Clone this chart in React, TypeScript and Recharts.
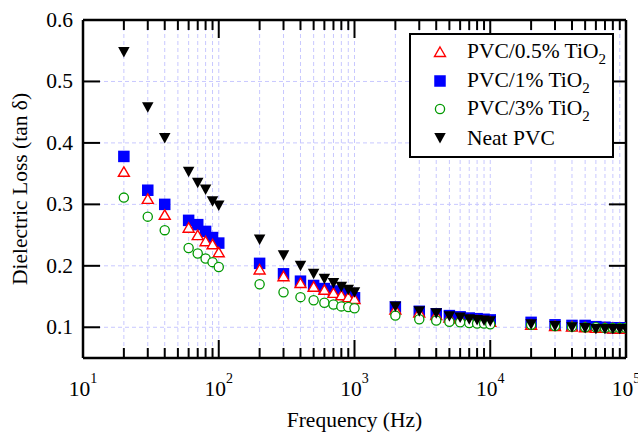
import React from "react";
import { ScatterChart, Scatter, XAxis, YAxis, CartesianGrid, Legend } from "recharts";

const FONT = "'Liberation Serif', 'Times New Roman', serif";

// frequency (Hz) of each measured point
const freqs = [
  20, 30, 40, 60, 70, 80, 90, 100,
  200, 300, 400, 500, 600, 700, 800, 900, 1000,
  2000, 3000, 4000, 5000, 6000, 7000, 8000, 9000, 10000,
  20000, 30000, 40000, 50000, 60000, 70000, 80000, 90000, 100000,
];

// dielectric loss (tan delta) per sample
const pvc05 = [
  0.353, 0.309, 0.283, 0.262, 0.25, 0.24, 0.235, 0.222,
  0.194, 0.183, 0.172, 0.166, 0.161, 0.156, 0.152, 0.149, 0.146,
  0.129, 0.124, 0.12, 0.116, 0.114, 0.112, 0.111, 0.11, 0.109,
  0.104, 0.102, 0.101, 0.1, 0.099, 0.099, 0.098, 0.098, 0.098,
];
const pvc1 = [
  0.378, 0.323, 0.3, 0.274, 0.267, 0.256, 0.246, 0.237,
  0.204, 0.187, 0.175, 0.168, 0.163, 0.159, 0.155, 0.151, 0.148,
  0.133, 0.126, 0.122, 0.119, 0.117, 0.115, 0.114, 0.113, 0.112,
  0.108, 0.104, 0.103, 0.103, 0.101, 0.1, 0.099, 0.099, 0.099,
];
const pvc3 = [
  0.311, 0.28, 0.258, 0.229, 0.22, 0.212, 0.206, 0.198,
  0.17, 0.157, 0.149, 0.144, 0.14, 0.137, 0.134, 0.133, 0.131,
  0.119, 0.113, 0.111, 0.109, 0.108, 0.107, 0.106, 0.106, 0.105,
  0.104, 0.102, 0.101, 0.1, 0.1, 0.099, 0.099, 0.099, 0.099,
];
const neatPvc = [
  0.548, 0.458, 0.408, 0.353, 0.335, 0.324, 0.305, 0.298,
  0.243, 0.217, 0.2, 0.187, 0.179, 0.172, 0.166, 0.161, 0.157,
  0.134, 0.126, 0.123, 0.118, 0.116, 0.113, 0.112, 0.111, 0.11,
  0.105, 0.102, 0.1, 0.099, 0.097, 0.097, 0.097, 0.097, 0.097,
];

const xTicks = [
  10, 20, 30, 40, 50, 60, 70, 80, 90,
  100, 200, 300, 400, 500, 600, 700, 800, 900,
  1000, 2000, 3000, 4000, 5000, 6000, 7000, 8000, 9000,
  10000, 20000, 30000, 40000, 50000, 60000, 70000, 80000, 90000,
  100000,
];
const yTicks = [0.1, 0.2, 0.3, 0.4, 0.5, 0.6];

const legendItems = [
  { kind: "tri", base: "PVC/0.5% TiO", sub: "2" },
  { kind: "sq", base: "PVC/1% TiO", sub: "2" },
  { kind: "circ", base: "PVC/3% TiO", sub: "2" },
  { kind: "down", base: "Neat PVC", sub: "" },
];

const toRows = (vals: number[]) => freqs.map((f, i) => ({ f, v: vals[i] }));

const isMajor = (v: number) => {
  const e = Math.round(Math.log10(v));
  return Math.abs(Math.pow(10, e) - v) < 1e-6 * v;
};

const Marker = ({ kind, cx, cy }: { kind: string; cx: number; cy: number }) => {
  if (kind === "tri")
    return (
      <polygon
        points={`${cx},${cy - 5} ${cx + 5.5},${cy + 4.5} ${cx - 5.5},${cy + 4.5}`}
        fill="#fff"
        stroke="#ff0000"
        strokeWidth={1.4}
      />
    );
  if (kind === "sq") return <rect x={cx - 5.75} y={cy - 5.75} width={11.5} height={11.5} fill="#0000ff" />;
  if (kind === "circ") return <circle cx={cx} cy={cy} r={4.6} fill="#fff" stroke="#009900" strokeWidth={1.3} />;
  return <polygon points={`${cx - 5.75},${cy - 5} ${cx + 5.75},${cy - 5} ${cx},${cy + 5.5}`} fill="#000" />;
};

const BottomTick = (props: any) => {
  const { x, y, payload } = props;
  const v = payload.value;
  const major = isMajor(v);
  return (
    <g>
      <line x1={x} x2={x} y1={y} y2={y - (major ? 18 : 10)} stroke="#000" strokeWidth={2} />
      {major && (
        <text x={x} y={y + 38} textAnchor="middle" fontFamily={FONT} fontSize={21.5} fill="#000">
          <tspan>10</tspan>
          <tspan dy={-13} fontSize={14}>
            {Math.round(Math.log10(v))}
          </tspan>
        </text>
      )}
    </g>
  );
};

const TopTick = (props: any) => {
  const { x, y, payload } = props;
  const major = isMajor(payload.value);
  return <line x1={x} x2={x} y1={y} y2={y + (major ? 18 : 10)} stroke="#000" strokeWidth={2} />;
};

const LeftTick = (props: any) => {
  const { x, y, payload } = props;
  return (
    <g>
      <line x1={x} x2={x + 17} y1={y} y2={y} stroke="#000" strokeWidth={2} />
      <text x={x - 10} y={y + 7} textAnchor="end" fontFamily={FONT} fontSize={21.5} fill="#000">
        {payload.value.toFixed(1)}
      </text>
    </g>
  );
};

const RightTick = (props: any) => {
  const { x, y } = props;
  return <line x1={x} x2={x - 17} y1={y} y2={y} stroke="#000" strokeWidth={2} />;
};

const XTitle = (props: any) => {
  const { x, y, width } = props.viewBox;
  return (
    <text x={x + width / 2} y={y + 69} textAnchor="middle" fontFamily={FONT} fontSize={21.5} fill="#000">
      Frequency (Hz)
    </text>
  );
};

const YTitle = (props: any) => {
  const { x, y, height } = props.viewBox;
  const tx = x - 55;
  const ty = y + height / 2;
  return (
    <text
      x={tx}
      y={ty}
      transform={`rotate(-90 ${tx} ${ty})`}
      textAnchor="middle"
      fontFamily={FONT}
      fontSize={21.5}
      fill="#000"
    >
      Dielectric Loss (tan δ)
    </text>
  );
};

const rowCenters = [17, 46, 74, 103];

const LegendBox = () => (
  <div
    style={{
      boxSizing: "border-box",
      width: 205,
      height: 125,
      border: "2px solid #000",
      background: "#fff",
      fontFamily: FONT,
      fontSize: 21.5,
      color: "#000",
      position: "relative",
    }}
  >
    {legendItems.map((it, i) => (
      <div
        key={it.base}
        style={{
          position: "absolute",
          left: 0,
          top: rowCenters[i] - 14,
          height: 28,
          display: "flex",
          alignItems: "center",
          whiteSpace: "nowrap",
        }}
      >
        <svg width={24} height={24} style={{ marginLeft: 17 }}>
          <Marker kind={it.kind} cx={12} cy={12} />
        </svg>
        <span style={{ marginLeft: 15, lineHeight: "22px" }}>
          {it.base}
          {it.sub && (
            <span style={{ fontSize: 15, position: "relative", top: 6 }}>{it.sub}</span>
          )}
        </span>
      </div>
    ))}
  </div>
);

const axisLine = { stroke: "#000", strokeWidth: 2.5 };

export default function App() {
  return (
    <div style={{ position: "absolute", left: 0, top: 0, width: 638, height: 434, background: "#fff" }}>
      <ScatterChart width={638} height={434} margin={{ top: 19, right: 11, bottom: 75, left: 82 }}>
        <CartesianGrid stroke="#c8c8ff" strokeDasharray="4 3" strokeWidth={1} />
        <XAxis
          type="number"
          dataKey="f"
          scale="log"
          domain={[10, 100000]}
          allowDataOverflow
          ticks={xTicks}
          interval={0}
          height={1}
          tickSize={0}
          tickMargin={0}
          tickLine={false}
          axisLine={axisLine}
          tick={BottomTick}
          label={XTitle}
        />
        <XAxis
          xAxisId="top"
          orientation="top"
          type="number"
          dataKey="f"
          scale="log"
          domain={[10, 100000]}
          allowDataOverflow
          ticks={xTicks}
          interval={0}
          height={1}
          tickSize={0}
          tickMargin={0}
          tickLine={false}
          axisLine={axisLine}
          tick={TopTick}
        />
        <YAxis
          type="number"
          dataKey="v"
          domain={[0.05, 0.6]}
          allowDataOverflow
          ticks={yTicks}
          interval={0}
          width={1}
          tickSize={0}
          tickMargin={0}
          tickLine={false}
          axisLine={axisLine}
          tick={LeftTick}
          label={YTitle}
        />
        <YAxis
          yAxisId="right"
          orientation="right"
          type="number"
          dataKey="v"
          domain={[0.05, 0.6]}
          allowDataOverflow
          ticks={yTicks}
          interval={0}
          width={1}
          tickSize={0}
          tickMargin={0}
          tickLine={false}
          axisLine={axisLine}
          tick={RightTick}
        />
        <Scatter name="PVC/1% TiO2" data={toRows(pvc1)} fill="#0000ff" isAnimationActive={false}
          shape={(p: any) => <Marker kind="sq" cx={p.cx} cy={p.cy} />} />
        <Scatter name="PVC/0.5% TiO2" data={toRows(pvc05)} fill="#ff0000" isAnimationActive={false}
          shape={(p: any) => <Marker kind="tri" cx={p.cx} cy={p.cy} />} />
        <Scatter name="PVC/3% TiO2" data={toRows(pvc3)} fill="#009900" isAnimationActive={false}
          shape={(p: any) => <Marker kind="circ" cx={p.cx} cy={p.cy} />} />
        <Scatter name="Neat PVC" data={toRows(neatPvc)} fill="#000" isAnimationActive={false}
          shape={(p: any) => <Marker kind="down" cx={p.cx} cy={p.cy} />} />
        <Legend
          layout="vertical"
          align="center"
          verticalAlign="middle"
          wrapperStyle={{ left: 409, top: 33, width: 205, height: 125 }}
          content={LegendBox}
        />
      </ScatterChart>
    </div>
  );
}
